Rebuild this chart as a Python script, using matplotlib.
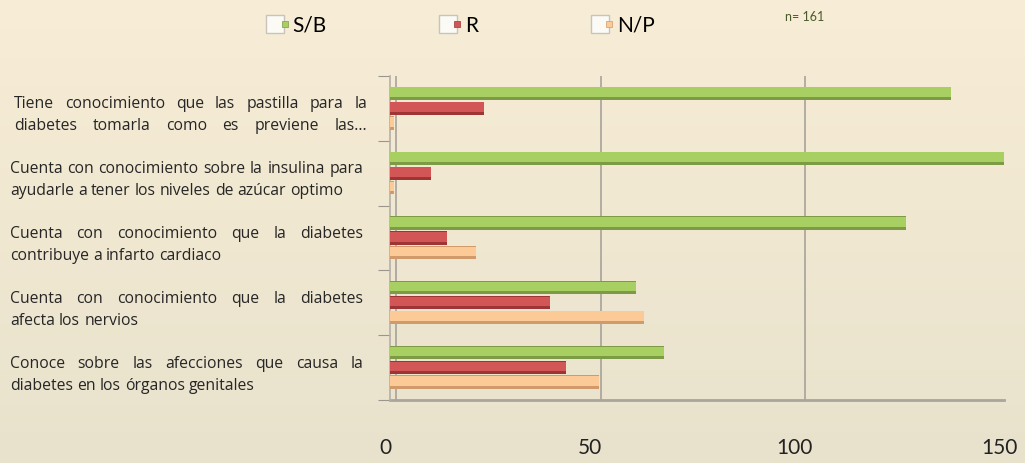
import numpy as np
import matplotlib
matplotlib.use("Agg")
import matplotlib.pyplot as plt
import matplotlib.transforms as mtransforms
from matplotlib.lines import Line2D
from matplotlib.legend_handler import HandlerTuple

# data (n = 161)
categories = [
    "Tiene conocimiento que las pastilla para la\ndiabetes tomarla como es previene las...",
    "Cuenta con conocimiento sobre la insulina para\nayudarle a tener los niveles de azúcar optimo",
    "Cuenta con conocimiento que la diabetes\ncontribuye a infarto cardiaco",
    "Cuenta con conocimiento que la diabetes\nafecta los nervios",
    "Conoce sobre las afecciones que causa la\ndiabetes en los órganos genitales",
]
series_names = ["S/B", "R", "N/P"]
sb = [137, 150, 126, 60, 67]
r = [23, 10, 14, 39, 43]
np_vals = [1, 1, 21, 62, 51]
xticks = [0, 50, 100, 150]

W, H = 1025, 464
fig = plt.figure(figsize=(W / 100, H / 100), dpi=100)

# background gradient
bg = fig.add_axes([0, 0, 1, 1], zorder=-10)
top = np.array([248, 237, 214]) / 255
bot = np.array([232, 226, 204]) / 255
t = np.linspace(0, 1, 256)[:, None]
grad = top * (1 - t[..., None]) + bot * t[..., None]
grad = np.repeat(grad, 2, axis=1)
bg.imshow(grad, aspect="auto", extent=[0, 1, 0, 1])
bg.axis("off")

ax = fig.add_axes([390 / W, 63 / H, 614 / W, 324 / H])
ax.set_facecolor("none")

y = np.arange(len(categories))
colors = {
    "S/B": ("#7d9a45", "#a8cf62"),
    "R": ("#9e3434", "#d35656"),
    "N/P": ("#d19a6a", "#fcca96"),
}
offsets = [-0.232, 0.0, 0.224]
bar_h = 0.205
for name, vals, off in zip(series_names, [sb, r, np_vals], offsets):
    dark, light = colors[name]
    ax.barh(y + off, vals, height=bar_h, color=dark, zorder=3)
    ax.barh(y + off - 0.018, vals, height=bar_h * 0.72, color=light, zorder=4)

ax.set_xlim(0, 150)
ax.set_ylim(len(categories) - 0.5, -0.5)

# back wall gridlines
for xv in xticks:
    ax.axvline(xv + 1.5, color="#a7a29a", lw=1.2, zorder=1)
ax.axhline(len(categories) - 0.5, color="#aaa59c", lw=2, zorder=2, clip_on=False)

for s in ["top", "right", "bottom"]:
    ax.spines[s].set_visible(False)
ax.spines["left"].set_color("#b5b0a8")
ax.spines["left"].set_linewidth(1.2)

ax.set_xticks(xticks)
ax.set_xticklabels([str(v) for v in xticks], fontsize=15, color="#222222",
                   family="Lato")
ax.tick_params(axis="x", length=0, pad=27)
shift = mtransforms.ScaledTranslation(-5 / 100, 0, fig.dpi_scale_trans)
for lbl in ax.get_xticklabels():
    lbl.set_transform(lbl.get_transform() + shift)
ax.set_yticks(np.arange(-0.5, len(categories)))
ax.set_yticklabels([])
ax.tick_params(axis="y", length=9, color="#9a958e", direction="out")

# justified category labels on the left
fig.canvas.draw()
renderer = fig.canvas.get_renderer()
label_x0, label_x1 = 10, 363
line_gap = 22
fs = 11.3
fam = "Open Sans"
space_w = fig.text(0, 0, "a a", fontsize=fs, family=fam).get_window_extent(renderer).width - \
    fig.text(0, 0, "aa", fontsize=fs, family=fam).get_window_extent(renderer).width
for tx in fig.texts[:]:
    tx.remove()
for i, lab in enumerate(categories):
    lines = lab.split("\n")
    yc = ax.transData.transform((0, y[i]))[1] - 6
    justify_all = lab.endswith("...")
    x0 = label_x0 + (4 if justify_all else 0)
    x1 = label_x1 + (4 if justify_all else 0)
    for j, line in enumerate(lines):
        ly = yc + (len(lines) - 1) / 2 * line_gap - j * line_gap
        words = line.split(" ")
        texts = [fig.text(0, ly / H, w, fontsize=fs, family=fam,
                          color="#262626", va="center", ha="left")
                 for w in words]
        widths = [tx.get_window_extent(renderer).width for tx in texts]
        if (j < len(lines) - 1 or justify_all) and len(words) > 1:
            gap = (x1 - x0 - sum(widths)) / (len(words) - 1)
        else:
            gap = space_w
        xp = x0
        for tx, wd in zip(texts, widths):
            tx.set_x(xp / W)
            xp += wd + gap

# legend at the top
handles = []
for name in series_names:
    box = Line2D([], [], marker="s", ls="", markersize=13, markerfacecolor="#fbfaf5",
                 markeredgecolor="#c8c4bb", markeredgewidth=1)
    dot = Line2D([], [], marker="s", ls="", markersize=5, markerfacecolor=colors[name][1],
                 markeredgecolor=colors[name][0], markeredgewidth=0.5)
    handles.append((box, dot))
fig.legend(handles, series_names, handler_map={tuple: HandlerTuple(ndivide=None, pad=0)},
           loc="center left", bbox_to_anchor=(252 / W, 1 - 26 / H), ncol=3, frameon=False,
           prop={"family": "Lato", "size": 15}, handlelength=0.9, handletextpad=0.15,
           columnspacing=5.6)

fig.text(805 / W, 1 - 17 / H, "n= 161", fontsize=9, family="Lato", color="#4a5a2a",
         va="center", ha="center")

fig.savefig("out.png", dpi=100)
